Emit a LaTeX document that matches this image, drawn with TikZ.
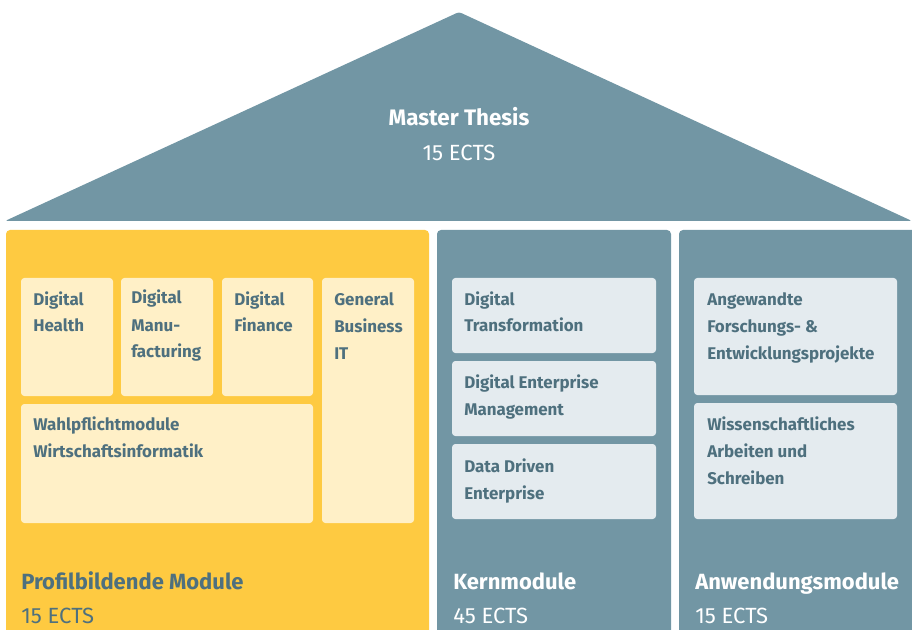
\documentclass[tikz,border=0pt]{standalone}
\usepackage{fontspec}
\setmainfont{Fira Sans}
\usetikzlibrary{fit}
\definecolor{slate}{RGB}{114,150,164}
\definecolor{gold}{RGB}{254,202,65}
\definecolor{cream}{RGB}{255,240,199}
\definecolor{mist}{RGB}{228,235,239}
\definecolor{ink}{RGB}{78,112,126}
\begin{document}
\begin{tikzpicture}[x=0.75pt,y=-0.75pt,
  col/.style={rectangle, rounded corners=3pt, inner sep=0pt, draw=none},
  cell/.style={rectangle, rounded corners=2.5pt, inner sep=0pt, draw=none},
  celltext/.style={anchor=base west, inner sep=0pt, align=left, text=ink,
    font=\fontsize{12.7}{20.25}\selectfont\bfseries},
  coltitle/.style={anchor=base west, inner sep=0pt, font=\fontsize{16.5}{20}\selectfont\bfseries},
  colects/.style={anchor=base west, inner sep=0pt, font=\fontsize{16.5}{20}\selectfont}]
\useasboundingbox (0,0) rectangle (912,630);
% roof
\fill[slate, rounded corners=2pt] (5,221) -- (459,12) -- (912,221) -- cycle;
\node[anchor=base, inner sep=0pt, text=white, font=\fontsize{16.8}{20}\selectfont\bfseries] (mt) at (459,126) {Master Thesis};
\node[anchor=base, inner sep=0pt, text=white, font=\fontsize{16.5}{20}\selectfont] (mtects) at (459,161) {15 ECTS};
% columns
\node[col, fill=gold, fit={(6,230) (429,640)}] (profil) {};
\node[col, fill=slate, fit={(437,230) (671,640)}] (kern) {};
\node[col, fill=slate, fit={(679,230) (920,640)}] (anw) {};
% profil cells
\node[cell, fill=cream, fit={(21,278) (113,396)}] (dh) {};
\node[cell, fill=cream, fit={(121,278) (213,396)}] (dm) {};
\node[cell, fill=cream, fit={(222,278) (313,396)}] (df) {};
\node[cell, fill=cream, fit={(322,278) (414,523)}] (gb) {};
\node[cell, fill=cream, fit={(21,404) (313,523)}] (wp) {};
% (anchor = baseline of the last line)
\node[celltext] (dht) at (33,332) {Digital\\Health};
\node[celltext] (dmt) at (131,358) {Digital\\Manu-\\facturing};
\node[celltext] (dft) at (234,332) {Digital\\Finance};
\node[celltext] (gbt) at (334,359) {General\\Business\\IT};
\node[celltext] (wpt) at (33,457) {Wahlpflichtmodule\\Wirtschaftsinformatik};
% kern cells
\node[cell, fill=mist, fit={(452,278) (656,353)}] (dt) {};
\node[cell, fill=mist, fit={(452,361) (656,436)}] (dem) {};
\node[cell, fill=mist, fit={(452,444) (656,519)}] (dde) {};
\node[celltext] (dtt) at (464,332) {Digital\\Transformation};
\node[celltext] (demt) at (464,415) {Digital Enterprise\\Management};
\node[celltext] (ddet) at (464,499) {Data Driven\\Enterprise};
% anwendung cells
\node[cell, fill=mist, fit={(694,278) (897,395)}] (afe) {};
\node[cell, fill=mist, fit={(694,403) (897,519)}] (was) {};
\node[celltext] (afet) at (707,359) {Angewandte\\Forschungs- \&\\Entwicklungsprojekte};
\node[celltext] (wast) at (707,484) {Wissenschaftliches\\Arbeiten und\\Schreiben};
% column titles
\node[coltitle, text=ink] (pt) at (21,589) {Profilbildende Module};
\node[colects, text=ink] (pe) at (21,623) {15 ECTS};
\node[coltitle, text=white] (kt) at (453,589) {Kernmodule};
\node[colects, text=white] (ke) at (453,623) {45 ECTS};
\node[coltitle, text=white] (at) at (695,589) {Anwendungsmodule};
\node[colects, text=white] (ae) at (695,623) {15 ECTS};
\end{tikzpicture}
\end{document}
